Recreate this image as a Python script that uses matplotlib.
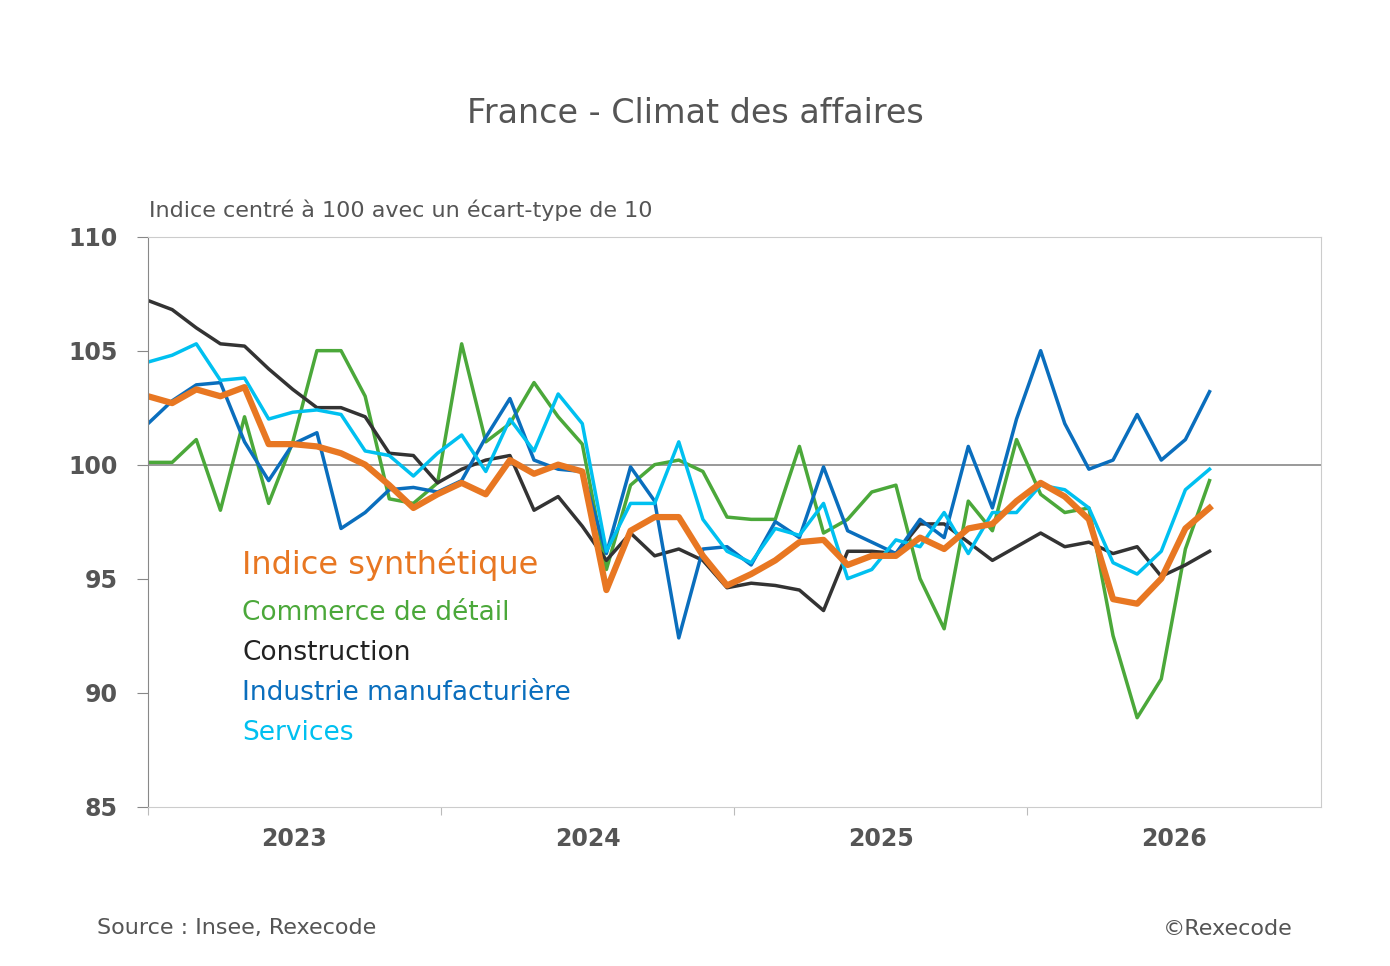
import matplotlib
matplotlib.use("Agg")
import matplotlib.pyplot as plt
import numpy as np

synth = [103.0,102.7,103.3,103.0,103.4,100.9,100.9,100.8,100.5,100.0,99.1,98.1,98.7,99.2,98.7,100.2,99.6,100.0,99.7,94.5,97.1,97.7,97.7,96.0,94.7,95.2,95.8,96.6,96.7,95.6,96.0,96.0,96.8,96.3,97.2,97.4,98.4,99.2,98.6,97.6,94.1,93.9,95.0,97.2,98.1]
commerce = [100.1,100.1,101.1,98.0,102.1,98.3,101.0,105.0,105.0,103.0,98.5,98.3,99.2,105.3,101.0,101.8,103.6,102.1,100.9,95.4,99.1,100.0,100.2,99.7,97.7,97.6,97.6,100.8,97.0,97.6,98.8,99.1,95.0,92.8,98.4,97.1,101.1,98.7,97.9,98.1,92.5,88.9,90.6,96.3,99.3]
construction = [107.2,106.8,106.0,105.3,105.2,104.2,103.3,102.5,102.5,102.1,100.5,100.4,99.2,99.8,100.2,100.4,98.0,98.6,97.3,95.8,97.0,96.0,96.3,95.8,94.6,94.8,94.7,94.5,93.6,96.2,96.2,96.1,97.4,97.4,96.6,95.8,96.4,97.0,96.4,96.6,96.1,96.4,95.1,95.6,96.2]
industrie = [101.8,102.8,103.5,103.6,101.0,99.3,100.9,101.4,97.2,97.9,98.9,99.0,98.8,99.3,101.2,102.9,100.2,99.8,99.7,96.1,99.9,98.4,92.4,96.3,96.4,95.6,97.5,96.8,99.9,97.1,96.6,96.1,97.6,96.8,100.8,98.1,102.0,105.0,101.8,99.8,100.2,102.2,100.2,101.1,103.2]
services = [104.5,104.8,105.3,103.7,103.8,102.0,102.3,102.4,102.2,100.6,100.4,99.5,100.5,101.3,99.7,102.0,100.6,103.1,101.8,96.2,98.3,98.3,101.0,97.6,96.2,95.7,97.2,96.9,98.3,95.0,95.4,96.7,96.4,97.9,96.1,97.9,97.9,99.1,98.9,98.1,95.7,95.2,96.2,98.9,99.8]
years = ["2023", "2024", "2025", "2026"]

cols = {"synth": "#E87722", "commerce": "#4BA83A", "construction": "#333333",
        "industrie": "#0A6EBD", "services": "#00C0F0"}

fig = plt.figure(figsize=(13.9, 9.66), dpi=100)
ax = fig.add_axes([0.1065, 0.165, 0.8435, 0.59])
x = np.arange(len(synth))
ax.plot(x, commerce, color=cols["commerce"], lw=2.5)
ax.plot(x, construction, color=cols["construction"], lw=2.5)
ax.plot(x, industrie, color=cols["industrie"], lw=2.5)
ax.plot(x, services, color=cols["services"], lw=2.5)
ax.plot(x, synth, color=cols["synth"], lw=4.5)
ax.axhline(100, color="#888888", lw=1.2, zorder=0)

ax.set_xlim(0, 48.6)
ax.set_ylim(85, 110)
ax.set_yticks([85, 90, 95, 100, 105, 110])
ax.set_xticks([0, 12.15, 24.3, 36.45], minor=False)
ax.set_xticklabels([])
for i, y in enumerate(years):
    ax.text(6.07 + 12.15 * i, 83.6, y, ha="center", va="center", fontsize=17,
            fontweight="bold", color="#555555")
ax.tick_params(axis="x", length=6, color="#bbbbbb")
ax.tick_params(axis="y", length=8, color="#888888", labelsize=17, labelcolor="#555555", pad=14)
for lab in ax.get_yticklabels():
    lab.set_fontweight("bold")
for s in ax.spines.values():
    s.set_color("#cccccc")
ax.spines["left"].set_color("#888888")

leg = [("Indice synthétique", cols["synth"], 23, 95.6),
       ("Commerce de détail", cols["commerce"], 19, 93.5),
       ("Construction", "#222222", 19, 91.75),
       ("Industrie manufacturière", cols["industrie"], 19, 90.0),
       ("Services", cols["services"], 19, 88.25)]
for t, c, fs, yy in leg:
    ax.text(3.9, yy, t, color=c, fontsize=fs, va="center", ha="left")

fig.text(0.5, 0.883, "France - Climat des affaires", ha="center", va="center",
         fontsize=24, color="#555555")
fig.text(0.107, 0.782, "Indice centré à 100 avec un écart-type de 10", ha="left",
         va="center", fontsize=16, color="#555555")
fig.text(0.07, 0.039, "Source : Insee, Rexecode", ha="left", va="center",
         fontsize=16, color="#555555")
fig.text(0.93, 0.038, "©Rexecode", ha="right", va="center", fontsize=16, color="#555555")
fig.savefig("out.png", dpi=100)
